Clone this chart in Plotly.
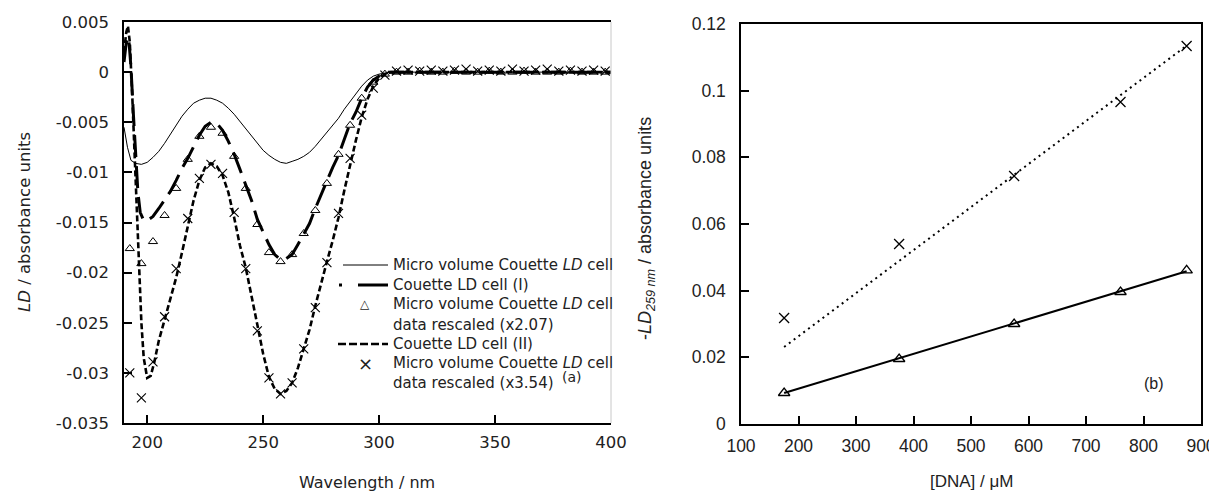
import plotly.graph_objects as go

# page body has an 8px default margin; the figure is sized to fill the rest of the window
OFF = 8
W, H = 1217 - OFF, 492 - OFF

# ---------------- Panel (a) data ----------------
micro_wl = [190, 191.5, 193, 195, 197.5, 200, 202.5, 205, 207.5, 210, 212.5, 215, 217.5, 220,
            222.5, 225, 227.5, 230, 232.5, 235, 237.5, 240, 242.5, 245, 247.5, 250, 252.5, 255,
            257.5, 260, 262.5, 265, 267.5, 270, 272.5, 275, 277.5, 280, 282.5, 285, 287.5, 290,
            292.5, 295, 297.5, 300, 302.5, 305, 310, 320, 330, 340, 350, 360, 370, 380, 390, 400]
micro_ld = [-0.0055, -0.0075, -0.0088, -0.0091, -0.0092, -0.0090, -0.0085, -0.0079, -0.0071,
            -0.0062, -0.0053, -0.0044, -0.0037, -0.0031, -0.0028, -0.0026, -0.0026, -0.0028,
            -0.0031, -0.0036, -0.0042, -0.0049, -0.0057, -0.0064, -0.0071, -0.0078, -0.0083,
            -0.0087, -0.0090, -0.0091, -0.0089, -0.0087, -0.0084, -0.0080, -0.0074, -0.0067,
            -0.0061, -0.0054, -0.0046, -0.0037, -0.0029, -0.0021, -0.0014, -0.0008, -0.0004,
            -0.0002, -0.0001, 0.0, 0.0, 0.0, 0.0, 0.0, 0.0, 0.0, 0.0, 0.0, 0.0, 0.0]

cellI_wl = [190, 191, 192, 193, 194, 195, 196, 197, 198.5, 200, 202.5, 205, 207.5, 210, 212.5,
            215, 217.5, 220, 222.5, 225, 227.5, 230, 232.5, 235, 237.5, 240, 242.5, 245, 247.5,
            250, 252.5, 255, 257.5, 260, 262.5, 265, 267.5, 270, 272.5, 275, 277.5, 280, 282.5,
            285, 287.5, 290, 292.5, 295, 297.5, 300, 302.5, 305, 310, 320, 330, 340, 350, 360,
            370, 380, 390, 400]
cellI_ld = [0.0010, 0.0030, 0.0035, 0.0005, -0.0040, -0.0085, -0.0120, -0.0140, -0.0148,
            -0.0148, -0.0144, -0.0136, -0.0128, -0.0119, -0.0108, -0.0096, -0.0086, -0.0075,
            -0.0063, -0.0054, -0.0050, -0.0051, -0.0058, -0.0069, -0.0082, -0.0097, -0.0112,
            -0.0128, -0.0147, -0.0160, -0.0172, -0.0182, -0.0187, -0.0186, -0.0182, -0.0172,
            -0.0162, -0.0151, -0.0136, -0.0122, -0.0108, -0.0095, -0.0083, -0.0068, -0.0051,
            -0.0040, -0.0026, -0.0015, -0.0008, -0.0004, -0.0002, 0.0, 0.0, 0.0, 0.0, 0.0,
            0.0, 0.0, 0.0, 0.0, 0.0, 0.0]

cellII_wl = [190, 191, 191.7, 192.5, 193.5, 194.5, 195.5, 196.5, 197.5, 198.5, 200, 201.5, 203,
             205, 207.5, 210, 212.5, 215, 217.5, 220, 222.5, 225, 227.5, 230, 232.5, 235, 237.5,
             240, 242.5, 245, 247.5, 250, 252.5, 255, 257.5, 260, 262.5, 265, 267.5, 270, 272.5,
             275, 277.5, 280, 282.5, 285, 287.5, 290, 292.5, 295, 297.5, 300, 302.5, 305, 310,
             320, 330, 340, 350, 360, 370, 380, 390, 400]
cellII_ld = [0.0020, 0.0040, 0.0046, 0.0030, -0.0020, -0.0080, -0.0140, -0.0200, -0.0250,
             -0.0285, -0.0305, -0.0303, -0.0290, -0.0268, -0.0247, -0.0226, -0.0205, -0.0180,
             -0.0155, -0.0128, -0.0108, -0.0095, -0.0091, -0.0094, -0.0103, -0.0120, -0.0145,
             -0.0173, -0.0195, -0.0222, -0.0252, -0.0281, -0.0304, -0.0316, -0.0321, -0.0318,
             -0.0310, -0.0295, -0.0277, -0.0257, -0.0233, -0.0210, -0.0189, -0.0168, -0.0145,
             -0.0118, -0.0092, -0.0068, -0.0045, -0.0027, -0.0014, -0.0006, -0.0002, 0.0, 0.0,
             0.0, 0.0, 0.0, 0.0, 0.0, 0.0, 0.0, 0.0, 0.0]

resc_wl = [192.5, 197.5, 202.5, 207.5, 212.5, 217.5, 222.5, 227.5, 232.5, 237.5, 242.5, 247.5,
           252.5, 257.5, 262.5, 267.5, 272.5, 277.5, 282.5, 287.5, 292.5, 297.5, 302.5, 307.5,
           312.5, 317.5, 322.5, 327.5, 332.5, 337.5, 342.5, 347.5, 352.5, 357.5, 362.5, 367.5,
           372.5, 377.5, 382.5, 387.5, 392.5, 397.5]
resc207_ld = [-0.0176, -0.0191, -0.0169, -0.0143, -0.0116, -0.0087, -0.0064, -0.0055, -0.0061,
              -0.0084, -0.0116, -0.0152, -0.0180, -0.0189, -0.0182, -0.0161, -0.0138, -0.0111,
              -0.0082, -0.0053, -0.0026, -0.0010, -0.0002, 0.0000, 0.0000, 0.0001, 0.0000,
              0.0000, 0.0001, 0.0000, 0.0000, 0.0001, 0.0000, 0.0000, 0.0001, 0.0000, 0.0000,
              0.0000, 0.0001, 0.0000, 0.0000, 0.0000]
resc354_ld = [-0.0300, -0.0325, -0.0289, -0.0244, -0.0196, -0.0146, -0.0106, -0.0092, -0.0101,
              -0.0140, -0.0196, -0.0258, -0.0305, -0.0321, -0.0310, -0.0276, -0.0235, -0.0190,
              -0.0141, -0.0086, -0.0043, -0.0016, -0.0003, 0.0001, 0.0002, 0.0001, 0.0002,
              0.0001, 0.0002, 0.0003, 0.0001, 0.0002, 0.0001, 0.0003, 0.0001, 0.0002, 0.0003,
              0.0001, 0.0002, 0.0001, 0.0002, 0.0001]

x_a_ticks = [200, 250, 300, 350, 400]
y_a_ticks = [0.005, 0, -0.005, -0.01, -0.015, -0.02, -0.025, -0.03, -0.035]
y_a_labels = ["0.005", "0", "-0.005", "-0.01", "-0.015", "-0.02", "-0.025", "-0.03", "-0.035"]

# ---------------- Panel (b) data ----------------
dna_um = [175, 375, 575, 760, 875]
ld_x207 = [0.0093, 0.0195, 0.0300, 0.0396, 0.0461]
ld_x354 = [0.0318, 0.0540, 0.0744, 0.0966, 0.1134]
fit_x = [175, 875]
fit_x207 = [0.0093, 0.0458]
fit_x354 = [0.0231, 0.1135]

x_b_ticks = [100, 200, 300, 400, 500, 600, 700, 800, 900]
y_b_ticks = [0, 0.02, 0.04, 0.06, 0.08, 0.1, 0.12]
y_b_labels = ["0", "0.02", "0.04", "0.06", "0.08", "0.1", "0.12"]

FONT_A = "DejaVu Sans, Verdana, sans-serif"
FONT_B = "Liberation Sans, Arial, sans-serif"
TXT = "#222222"

def px(x):
    return (x - OFF) / W

def py(y):
    return 1 - (y - OFF) / H

fig = go.Figure()

# panel (a)
fig.add_trace(go.Scatter(x=micro_wl, y=micro_ld, mode="lines",
                         line=dict(color="black", width=1), xaxis="x", yaxis="y"))
fig.add_trace(go.Scatter(x=cellI_wl, y=cellI_ld, mode="lines",
                         line=dict(color="black", width=3, dash="22px,9px"), xaxis="x", yaxis="y"))
fig.add_trace(go.Scatter(x=cellII_wl, y=cellII_ld, mode="lines",
                         line=dict(color="black", width=2.6, dash="6px,3px"), xaxis="x", yaxis="y"))
fig.add_trace(go.Scatter(x=resc_wl, y=resc207_ld, mode="markers",
                         marker=dict(symbol="triangle-up-open", size=8, color="black",
                                     line=dict(width=1)), xaxis="x", yaxis="y"))
fig.add_trace(go.Scatter(x=resc_wl, y=resc354_ld, mode="markers",
                         marker=dict(symbol="x-thin-open", size=9, color="black",
                                     line=dict(width=1.1, color="black")), xaxis="x", yaxis="y"))

# panel (b)
fig.add_trace(go.Scatter(x=fit_x, y=fit_x207, mode="lines",
                         line=dict(color="black", width=2), xaxis="x2", yaxis="y2"))
fig.add_trace(go.Scatter(x=fit_x, y=fit_x354, mode="lines",
                         line=dict(color="black", width=2, dash="2px,4px"), xaxis="x2", yaxis="y2"))
fig.add_trace(go.Scatter(x=dna_um, y=ld_x207, mode="markers",
                         marker=dict(symbol="triangle-up-open", size=10, color="black",
                                     line=dict(width=1.3)), xaxis="x2", yaxis="y2"))
fig.add_trace(go.Scatter(x=dna_um, y=ld_x354, mode="markers",
                         marker=dict(symbol="x-thin-open", size=10, color="black",
                                     line=dict(width=1.3, color="black")), xaxis="x2", yaxis="y2"))

def axis_common(font, size):
    return dict(showgrid=False, zeroline=False, showline=True, linecolor="black",
                linewidth=1.5, ticks="inside", tickcolor="black", tickwidth=1.5, ticklen=8,
                automargin=False, tickfont=dict(family=font, size=size, color=TXT))

fig.update_layout(
    width=W, height=H, autosize=False,
    margin=dict(l=0, r=0, t=0, b=0, pad=0, autoexpand=False),
    paper_bgcolor="white", plot_bgcolor="white", showlegend=False,
    xaxis=dict(domain=[px(124), px(611)], range=[190, 400], tickvals=x_a_ticks,
               anchor="y", mirror=True, ticklabelstandoff=3, **axis_common(FONT_A, 16.5)),
    yaxis=dict(domain=[py(423), py(22)], range=[-0.035, 0.005], tickvals=y_a_ticks,
               ticktext=y_a_labels, anchor="x", ticklabelstandoff=10,
               **axis_common(FONT_A, 16.5)),
    xaxis2=dict(domain=[px(741), px(1201)], range=[100, 900], tickvals=x_b_ticks,
                anchor="y2", mirror=True, ticklabelstandoff=5, **axis_common(FONT_B, 17.5)),
    yaxis2=dict(domain=[py(424), py(24)], range=[0, 0.12], tickvals=y_b_ticks,
                ticktext=y_b_labels, anchor="x2", mirror=True, ticklabelstandoff=10,
                **axis_common(FONT_B, 17.5)),
)

shapes = []
# faint right border of panel (a)
shapes.append(dict(type="line", xref="paper", yref="paper", x0=px(611), x1=px(611),
                   y0=py(423), y1=py(22), line=dict(color="#c8c8c8", width=1)))

# custom legend for panel (a)
LX0, LX1 = 343, 388
shapes.append(dict(type="line", xref="paper", yref="paper", x0=px(LX0), x1=px(LX1),
                   y0=py(265), y1=py(265), line=dict(color="black", width=1)))
shapes.append(dict(type="line", xref="paper", yref="paper", x0=px(339), x1=px(342),
                   y0=py(285), y1=py(285), line=dict(color="black", width=3)))
shapes.append(dict(type="line", xref="paper", yref="paper", x0=px(358), x1=px(LX1),
                   y0=py(285), y1=py(285), line=dict(color="black", width=3)))
shapes.append(dict(type="line", xref="paper", yref="paper", x0=px(338), x1=px(LX1),
                   y0=py(344), y1=py(344), line=dict(color="black", width=2.6, dash="8px,3px")))
fig.update_layout(shapes=shapes)

LEG = 15
ann = []
def txt(x, y, s, size=LEG, xanchor="left", angle=0, font=FONT_A):
    ann.append(dict(x=px(x), y=py(y), xref="paper", yref="paper", text=s, showarrow=False,
                    xanchor=xanchor, yanchor="middle", textangle=angle,
                    font=dict(family=font, size=size, color=TXT)))

txt(391, 265, "Micro volume Couette <i>LD</i> cell")
txt(391, 285, "Couette LD cell (I)")
txt(365, 304, "\u25b3", size=12, xanchor="center")
txt(391, 304, "Micro volume Couette <i>LD</i> cell")
txt(391, 325, "data rescaled (x2.07)")
txt(391, 344, "Couette LD cell (II)")
txt(365, 363, "\u00d7", size=18, xanchor="center")
txt(391, 363, "Micro volume Couette <i>LD</i> cell")
txt(391, 383, "data rescaled (x3.54)")
txt(560, 377, "(a)", size=14)

# axis titles
txt(367, 482, "Wavelength / nm", size=16, xanchor="center")
txt(971, 481, "[DNA] / \u03bcM", size=17, xanchor="center", font=FONT_B)
txt(24, 222, "<i>LD</i> / absorbance units", size=16.5, xanchor="center", angle=-90)
txt(646, 229, "-<i>LD</i><sub><i>259 nm</i></sub> / absorbance units", size=18,
    xanchor="center", angle=-90, font=FONT_B)

ann.append(dict(x=818, y=0.0123, xref="x2", yref="y2", text="(b)", showarrow=False,
                font=dict(family=FONT_B, size=16, color=TXT)))
fig.update_layout(annotations=ann)

fig.write_html("out.html")
